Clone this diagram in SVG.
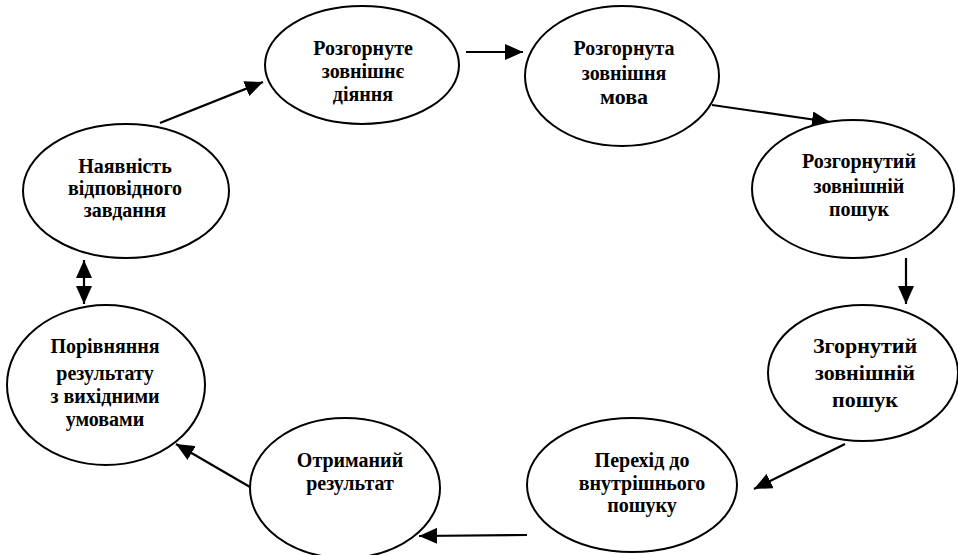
<svg xmlns="http://www.w3.org/2000/svg" width="958" height="555" viewBox="0 0 958 555">
<style>
.n ellipse{fill:#fff;stroke:#000;stroke-width:2}
.n text{font-family:'Liberation Serif','DejaVu Serif',serif;font-weight:bold;font-size:20px;text-anchor:middle;fill:#000}
.n text.b{font-size:22px}
.c line{stroke:#000;stroke-width:2.2;fill:none}
</style>
<defs>
<marker id="m" viewBox="0 0 18 16" refX="18" refY="8" markerWidth="18" markerHeight="16" markerUnits="userSpaceOnUse" orient="auto-start-reverse">
<path d="M0,0 L18,8 L0,16 z" fill="#000"/>
</marker>
</defs>
<rect width="958" height="555" fill="#fff"/>
<g class="c">
<line x1="160" y1="123" x2="263" y2="82" marker-end="url(#m)"/>
<line x1="466" y1="52" x2="523" y2="52" marker-end="url(#m)"/>
<line x1="712" y1="105" x2="830" y2="122" marker-end="url(#m)"/>
<line x1="906" y1="258" x2="906" y2="304" marker-end="url(#m)"/>
<line x1="845" y1="444" x2="754" y2="489" marker-end="url(#m)"/>
<line x1="527" y1="535" x2="419" y2="536" marker-end="url(#m)"/>
<line x1="250" y1="487" x2="176" y2="444" marker-end="url(#m)"/>
<line x1="84" y1="260" x2="84" y2="304" marker-start="url(#m)" marker-end="url(#m)"/>
</g>
<g id="n1" class="n"><ellipse cx="362" cy="65" rx="97" ry="59"/>
<text x="363" y="55">Розгорнуте</text><text x="363" y="78">зовнішнє</text><text x="363" y="101">діяння</text></g>
<g id="n2" class="n"><ellipse cx="622" cy="76" rx="97" ry="70"/>
<text x="624" y="55">Розгорнута</text><text x="624" y="80">зовнішня</text><text x="624" y="104" class="b">мова</text></g>
<g id="n3" class="n"><ellipse cx="853" cy="189" rx="101" ry="69"/>
<text x="859" y="168">Розгорнутий</text><text x="859" y="193">зовнішній</text><text x="859" y="216">пошук</text></g>
<g id="n4" class="n"><ellipse cx="863" cy="373" rx="95" ry="68"/>
<text x="865" y="353" class="b">Згорнутий</text><text x="865" y="380" class="b">зовнішній</text><text x="865" y="407" class="b">пошук</text></g>
<g id="n5" class="n"><ellipse cx="632" cy="485" rx="105" ry="67"/>
<text x="642" y="467">Перехід до</text><text x="642" y="490">внутрішнього</text><text x="642" y="512">пошуку</text></g>
<g id="n6" class="n"><ellipse cx="345" cy="488" rx="95" ry="70"/>
<text x="350" y="467">Отриманий</text><text x="350" y="490">результат</text></g>
<g id="n7" class="n"><ellipse cx="106" cy="385" rx="99" ry="80"/>
<text x="105" y="353">Порівняння</text><text x="105" y="380">результату</text><text x="105" y="403">з вихідними</text><text x="105" y="426">умовами</text></g>
<g id="n8" class="n"><ellipse cx="126" cy="191" rx="103" ry="67"/>
<text x="125" y="173">Наявність</text><text x="125" y="195">відповідного</text><text x="125" y="217">завдання</text></g>
</svg>
